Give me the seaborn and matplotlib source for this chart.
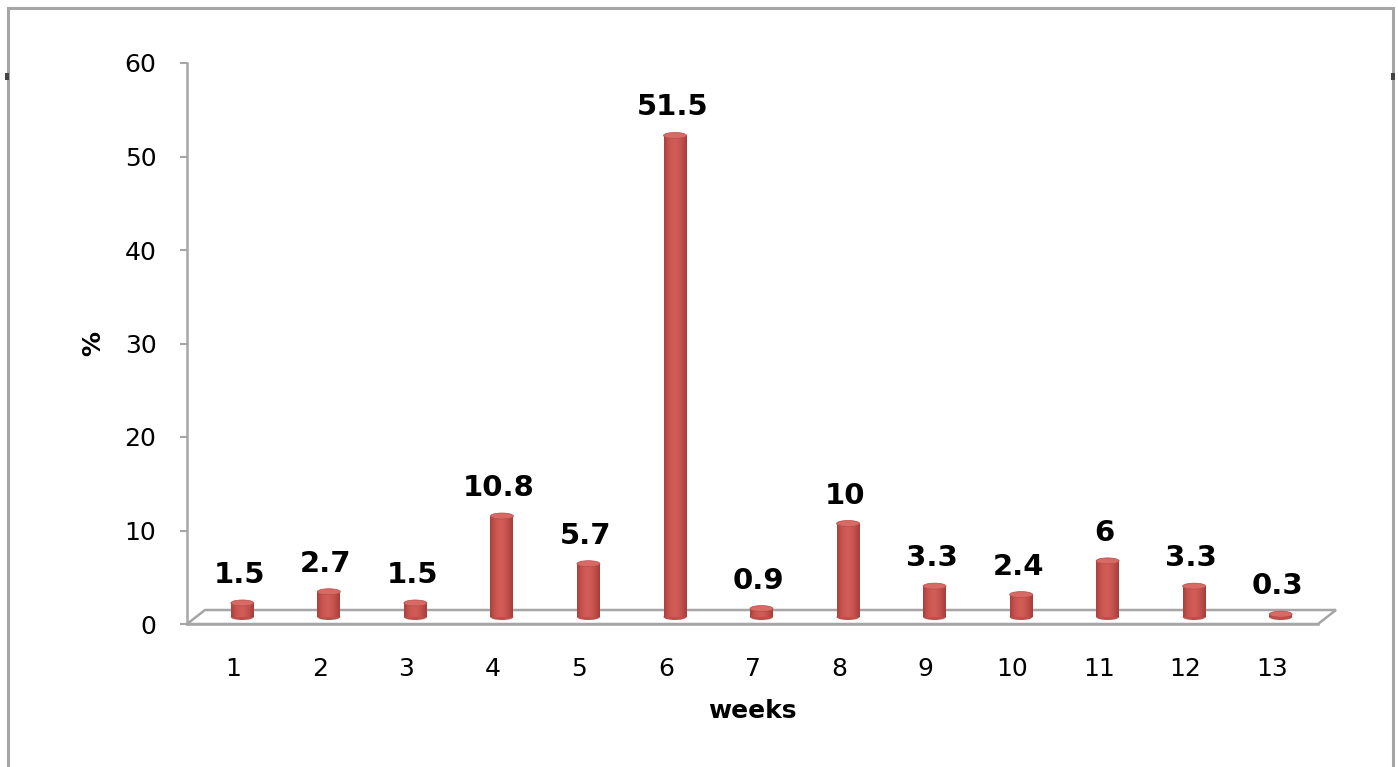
import numpy as np
import matplotlib
matplotlib.use("Agg")
import matplotlib.pyplot as plt
import seaborn as sns
from matplotlib.patches import Ellipse, Polygon, Rectangle
from matplotlib.colors import LinearSegmentedColormap

# data
weeks = ["1", "2", "3", "4", "5", "6", "7", "8", "9", "10", "11", "12", "13"]
percent = [1.5, 2.7, 1.5, 10.8, 5.7, 51.5, 0.9, 10, 3.3, 2.4, 6, 3.3, 0.3]
value_labels = ["1.5", "2.7", "1.5", "10.8", "5.7", "51.5", "0.9", "10", "3.3",
                "2.4", "6", "3.3", "0.3"]
y_ticks = [0, 10, 20, 30, 40, 50, 60]

W, H = 1398, 767
sns.set_theme(style="white")
plt.rcParams["font.family"] = ["DejaVu Sans"]

fig = plt.figure(figsize=(W / 100, H / 100), dpi=100)
fig.patch.set_facecolor("white")

GRAY = "#a6a6a6"

# plot geometry in pixels
x_left, x_right = 187, 1318
y_zero, y_top = 624, 63
bar_dx, bar_dy = 9, 7          # back wall offset where bars stand
floor_dx, floor_dy = 18, 14    # floor depth


def fbox(left, bottom_px, right, top_px):
    return [left / W, 1 - bottom_px / H, (right - left) / W, (bottom_px - top_px) / H]


ax = fig.add_axes(fbox(x_left, y_zero, x_right, y_top))
axb = fig.add_axes(fbox(x_left + bar_dx, y_zero - bar_dy, x_right + bar_dx, y_top - bar_dy))

n = len(weeks)
xlim = (-0.535, n - 1 + 0.535)
ylim = (0, 60)

# frame axes: ticks, labels, floor
ax.set_xlim(*xlim)
ax.set_ylim(*ylim)
ax.set_xticks(range(n))
ax.set_xticklabels(weeks)
ax.set_yticks(y_ticks)
ax.set_yticklabels([str(v) for v in y_ticks])
for side in ("top", "right"):
    ax.spines[side].set_visible(False)
for side in ("left", "bottom"):
    ax.spines[side].set_color(GRAY)
    ax.spines[side].set_linewidth(1.8)
ax.tick_params(axis="y", which="major", left=True, length=5, width=1.5,
               color=GRAY, pad=17, labelsize=18, labelcolor="black")
ax.tick_params(axis="x", which="major", bottom=False, length=0, pad=24,
               labelsize=18, labelcolor="black")
ax.set_xlabel("weeks", fontsize=18, fontweight="bold", labelpad=13, color="black")
ax.set_ylabel("%", fontsize=18, fontweight="bold", labelpad=14, color="black")
ax.patch.set_alpha(0)

px_per_x = (x_right - x_left) / (xlim[1] - xlim[0])
px_per_y = (y_zero - y_top) / (ylim[1] - ylim[0])
ddx = floor_dx / px_per_x
ddy = floor_dy / px_per_y
floor = Polygon([(xlim[0], 0), (xlim[1], 0), (xlim[1] + ddx, ddy), (xlim[0] + ddx, ddy)],
                closed=True, facecolor="white", edgecolor=GRAY, linewidth=1.8,
                clip_on=False, zorder=0.5)
ax.add_patch(floor)

# bars
base = "#c0504d"
sns.barplot(x=weeks, y=percent, ax=axb, color=base, width=0.265, saturation=1)
axb.set_xlim(*xlim)
axb.set_ylim(*ylim)
axb.axis("off")
axb.patch.set_alpha(0)

cyl = LinearSegmentedColormap.from_list(
    "cyl", ["#a8413d", "#c2504b", "#cf5a55", "#d15d58", "#cb5651", "#bb4a46", "#a33e3a"])
grad = cyl(np.linspace(0, 1, 96))[None, :, :]
cap_h = 6 / px_per_y

for patch, lbl, val in zip(axb.patches, value_labels, percent):
    x, w, h = patch.get_x(), patch.get_width(), patch.get_height()
    cx = x + w / 2
    patch.set_visible(False)
    # rounded bottom
    axb.add_patch(Ellipse((cx, 0), w, cap_h, facecolor="#bf4e4a", edgecolor="none",
                          clip_on=False, zorder=1.5))
    axb.imshow(grad, extent=[x, x + w, 0, h], aspect="auto", zorder=2,
               interpolation="bilinear", clip_on=False)
    # top cap
    axb.add_patch(Ellipse((cx, h), w, cap_h, facecolor="#d76a65", edgecolor="#b94a46",
                          linewidth=0.5, clip_on=False, zorder=3))
    axb.annotate(lbl, xy=(cx, val), xytext=(-2, 14.4), textcoords="offset points",
                 ha="center", va="baseline", fontsize=21, fontweight="bold",
                 color="black", annotation_clip=False)

axb.set_xlim(*xlim)
axb.set_ylim(*ylim)

# chart area border
fig.add_artist(Rectangle((8 / W, -0.05), (1393 - 8) / W, 1 - 8 / H + 0.05,
                         transform=fig.transFigure, fill=False, edgecolor=GRAY,
                         linewidth=2.2))
for px in (5, 1391):
    fig.add_artist(Rectangle((px / W, 1 - 80 / H), 4 / W, 7 / H,
                             transform=fig.transFigure, facecolor="#444444",
                             edgecolor="none"))

fig.savefig("out.png", dpi=100, facecolor="white")
